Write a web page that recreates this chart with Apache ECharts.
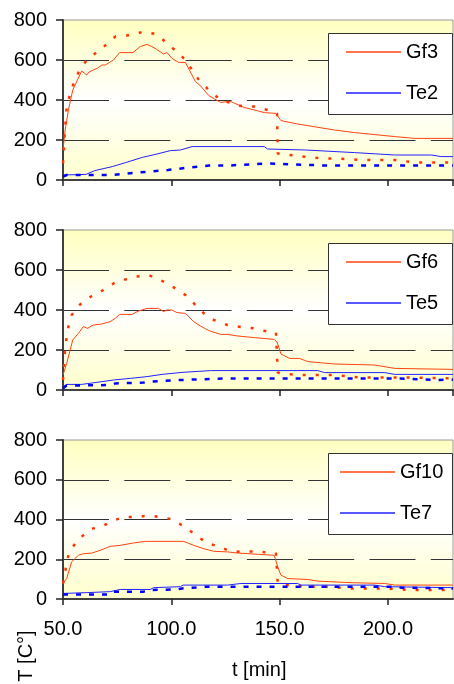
<!DOCTYPE html>
<html>
<head>
<meta charset="utf-8">
<script src="https://cdn.jsdelivr.net/npm/echarts@6/dist/echarts.min.js"></script>
<style>
  html, body { margin: 0; padding: 0; background: #fff; }
  #chart { width: 454px; height: 684px; }
</style>
</head>
<body>
<div id="chart"></div>
<script>
// values, [t (min), T (C)]
var gf3 = [[50,150],[51,250],[52.5,350],[54.5,450],[58.6,545],[61,525],[62,540],[64,550],[66,560],[67.9,575],[69.5,575],[70.2,566],[73.3,600],[76.1,637],[82.3,637],[85.6,667],[88.8,678],[91,667],[93,655],[96.4,630],[98,637],[100.3,608],[103.4,588],[106.5,588],[111.1,492],[113.1,475],[117.3,422],[122.7,388],[125.9,392],[127.5,392],[133.6,363],[142.9,337],[148.3,333],[149,320],[150.6,297],[158.3,280],[175.3,250],[184.6,237],[203.1,217],[212.4,208],[230,208]];
var gf3b = [[50,83],[50.9,250],[51.7,367],[54,458],[57.9,558],[61.7,608],[67.1,650],[74.1,717],[81.8,725],[87.2,742],[93.4,728],[98.8,675],[102.6,642],[106.5,600],[112.7,500],[117.3,450],[122.7,400],[132.1,370],[138.3,367],[144.4,350],[148.8,333],[149.1,133],[156.8,122],[169.1,108],[175.3,108],[187.7,100],[203.1,100],[212.4,88],[230,88]];
var te2 = [[50,25],[60.6,28],[64.7,47],[72.8,67],[78.9,87],[86.6,113],[93.4,130],[99.6,147],[104.2,150],[109.6,167],[142.9,167],[144.4,155],[161.9,150],[184.6,137],[203.1,125],[220,125],[224.6,117],[230,117]];
var te2b = [[50,17],[51.7,25],[72.8,25],[79.7,33],[89.8,42],[98.5,50],[107.7,62],[117.3,72],[125.9,72],[144.4,83],[172.2,72],[230,72]];

var gf6 = [[50,75],[51.7,133],[54.5,250],[57.1,283],[59.4,317],[61.3,308],[64,325],[67.9,330],[71.8,342],[74.1,358],[76.1,378],[81.8,378],[84.9,395],[88.8,408],[94.1,408],[96.4,392],[98,400],[100.3,400],[102.6,387],[106.5,383],[110.3,342],[113.4,320],[117.3,297],[122.7,278],[125.9,278],[130.6,270],[138.3,262],[147.5,253],[148.8,240],[150.6,180],[154.5,158],[159.1,158],[163,142],[175.3,130],[193.8,125],[203.1,108],[230,103]];
var gf6b = [[50,50],[50.9,192],[51.7,267],[52.5,317],[54,375],[57.9,428],[63.3,470],[68.7,500],[74.1,538],[79.5,555],[84.1,567],[89.5,575],[96.4,542],[101.1,513],[106.5,475],[111.9,417],[115,383],[119.6,350],[125.9,325],[130.6,317],[138.3,308],[144.4,292],[148.3,287],[149.1,87],[152.9,80],[159.1,75],[175.3,75],[187.7,62],[212.4,62],[230,58]];
var te5 = [[50,17],[51.7,28],[58.6,28],[64.8,37],[73.3,50],[81,58],[88.8,67],[95.7,78],[104.9,88],[118.1,97],[167.6,97],[170.7,87],[198.5,87],[203.1,78],[230,78]];
var te5b = [[50,8],[51.7,22],[71.8,25],[74.1,33],[87.2,37],[89.5,42],[104.2,50],[125.9,58],[203.1,58],[215.4,53],[221.6,50],[230,52]];

var gf10 = [[50,78],[51.7,103],[54,187],[57.1,220],[59.4,228],[63.3,231],[67.1,245],[71.8,265],[76.4,270],[82.6,282],[88,290],[105.7,290],[110.3,270],[115,253],[119.6,240],[125.9,237],[129.8,232],[139.8,225],[147.5,220],[149.1,162],[150.6,120],[153.7,103],[163,98],[167.6,90],[183,82],[198.5,78],[203.1,70],[230,70]];
var gf10b = [[50,78],[50.9,128],[51.7,187],[53.2,245],[57.9,308],[63.3,353],[67.9,365],[73.3,395],[77.9,412],[84.1,412],[89.5,420],[94.9,412],[99.5,403],[106.5,362],[111.9,315],[117.3,278],[122.7,262],[125.9,245],[132.1,237],[139.8,240],[145.2,232],[148.3,230],[149.1,78],[153.7,70],[163,62],[172.2,62],[183,53],[198.5,53],[210.8,45],[230,45]];
var te7 = [[50,28],[61,32],[61.7,37],[71.8,37],[76.4,48],[90.3,48],[91.8,57],[104.2,62],[105.4,70],[125.9,70],[132.1,78],[158.3,78],[159.9,70],[193.8,70],[198.5,62],[230,57]];
var te7b = [[50,23],[71.8,23],[73.3,37],[87.2,37],[89.5,45],[102.6,48],[104.9,53],[116.5,62],[203.1,62],[206.2,57],[230,53]];

var panels = [
  { names: ['Gf3', 'Te2'], data: [gf3, gf3b, te2, te2b], top: 20, height: 160, legendLeft: 346 },
  { names: ['Gf6', 'Te5'], data: [gf6, gf6b, te5, te5b], top: 230, height: 160, legendLeft: 346 },
  { names: ['Gf10', 'Te7'], data: [gf10, gf10b, te7, te7b], top: 440, height: 159, legendLeft: 340 }
];

var font = 'Arial, "Liberation Sans", sans-serif';
var red = '#ff4411', blue = '#2222ff';

var grids = [], xAxes = [], yAxes = [], series = [], legends = [], graphics = [];

panels.forEach(function (p, i) {
  grids.push({
    left: 63, width: 390, top: p.top, height: p.height,
    show: true, borderColor: '#999', borderWidth: 1,
    backgroundColor: new echarts.graphic.LinearGradient(0, 0, 0, 1, [
      { offset: 0, color: '#ffffc0' },
      { offset: 0.5, color: '#ffffff' },
      { offset: 1, color: '#ffffcc' }
    ])
  });
  xAxes.push({
    gridIndex: i, type: 'value', min: 50, max: 230, interval: 50,
    axisLine: { lineStyle: { color: '#404040', width: 2 } },
    axisTick: { length: 6, lineStyle: { color: '#222', width: 1.5 } },
    axisLabel: {
      show: i === 2, showMaxLabel: false, margin: 20,
      fontSize: 20, fontFamily: font, color: '#000',
      formatter: function (v) { return v.toFixed(1); }
    },
    splitLine: { show: false }
  });
  yAxes.push({
    gridIndex: i, type: 'value', min: 0, max: 800, interval: 200,
    axisLine: { show: true, lineStyle: { color: '#404040', width: 2 } },
    axisTick: { show: true, length: 7, lineStyle: { color: '#222', width: 1.5 } },
    axisLabel: { margin: 16, fontSize: 20, fontFamily: font, color: '#000' },
    splitLine: {
      show: true, showMinLine: false, showMaxLine: false,
      lineStyle: { color: '#333', width: 1, type: [46, 15.3] }
    }
  });

  var styles = [
    { name: p.names[0], color: red, width: 1, type: 'solid' },
    { name: p.names[0] + ' b', color: '#ff3300', width: 2.5, type: [3, 10] },
    { name: p.names[1], color: blue, width: 1, type: 'solid' },
    { name: p.names[1] + ' b', color: '#0000ff', width: 2.5, type: [5, 8] }
  ];
  styles.forEach(function (s, k) {
    series.push({
      name: s.name, type: 'line', xAxisIndex: i, yAxisIndex: i,
      data: p.data[k], showSymbol: false, symbol: 'none', silent: true,
      color: s.color,
      lineStyle: { color: s.color, width: s.width, type: s.type, cap: 'butt' }
    });
  });

  graphics.push({
    type: 'rect', z: 50,
    shape: { x: 328.5, y: p.top + 13.5, width: 124, height: 81 },
    style: { fill: '#fff', stroke: '#333', lineWidth: 1 }
  });
  legends.push({
    data: p.names, orient: 'vertical', left: p.legendLeft, top: p.top + 22,
    padding: 0, itemGap: 21, itemWidth: 55, itemHeight: 1.5, icon: 'rect',
    selectedMode: false, z: 60,
    textStyle: { fontSize: 20, fontFamily: font, color: '#000', lineHeight: 20 }
  });
});

graphics.push({
  type: 'text', left: 232, top: 660, z: 50,
  style: { text: 't [min]', fontSize: 20, fontFamily: font, fill: '#000' }
});
graphics.push({
  type: 'text', x: 26, y: 656, rotation: Math.PI / 2, z: 50,
  style: { text: 'T [C°]', fontSize: 20, fontFamily: font, fill: '#000', align: 'center', verticalAlign: 'middle' }
});

var myChart = echarts.init(document.getElementById('chart'));
myChart.setOption({
  backgroundColor: '#fff',
  animation: false,
  grid: grids,
  xAxis: xAxes,
  yAxis: yAxes,
  legend: legends,
  graphic: graphics,
  series: series
});
</script>
</body>
</html>
